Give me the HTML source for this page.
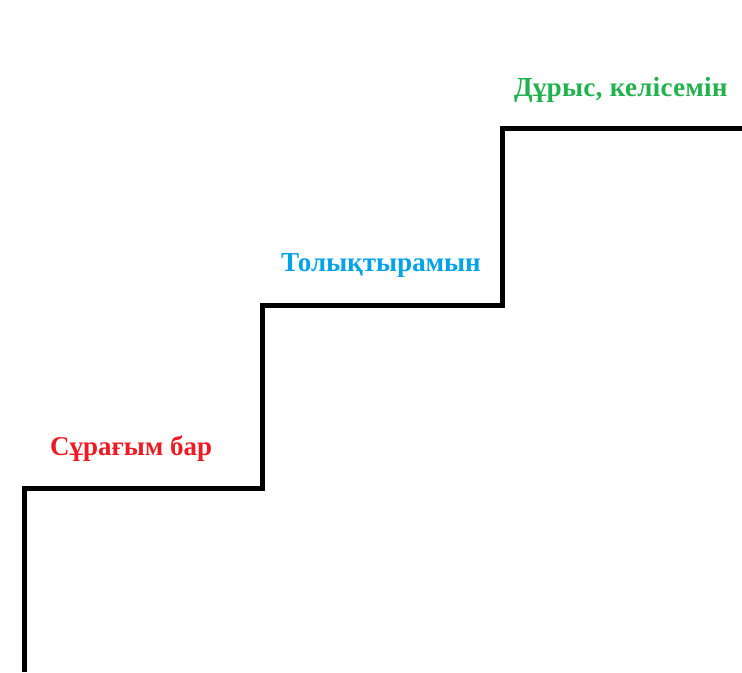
<!DOCTYPE html>
<html><head><meta charset="utf-8"><style>
html,body{margin:0;padding:0;background:#fff;width:742px;height:673px;overflow:hidden}
.t{position:absolute;font-family:"Liberation Serif",serif;font-weight:bold;font-size:27px;white-space:nowrap;line-height:1}
</style></head><body>
<svg width="742" height="673" style="position:absolute;left:0;top:0">
<polyline points="24.5,672 24.5,488.5 262.5,488.5 262.5,305.5 502.5,305.5 502.5,128.5 742,128.5" fill="none" stroke="#000" stroke-width="5" stroke-linejoin="miter"/>
</svg>
<div class="t" style="left:50px;top:433px;color:#ed1c24">Сұрағым бар</div>
<div class="t" style="left:281px;top:249px;color:#00a2e8">Толықтырамын</div>
<div class="t" style="left:514px;top:74px;color:#22b14c;letter-spacing:0.3px">Дұрыс, келісемін</div>
</body></html>
